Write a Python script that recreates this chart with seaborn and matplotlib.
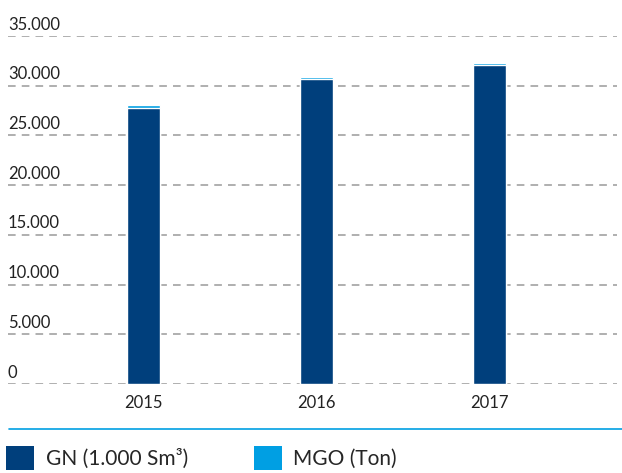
import numpy as np
import pandas as pd
import seaborn as sns
import matplotlib.pyplot as plt
from matplotlib.lines import Line2D
from matplotlib.patches import Patch

# data
years = ["2015", "2016", "2017"]
gn = [27800, 30700, 32100]      # GN (1.000 Sm3)
mgo = [250, 220, 220]           # MGO (Ton)
yticks = [0, 5000, 10000, 15000, 20000, 25000, 30000, 35000]

dark = "#003f7c"
light = "#009fe3"

df = pd.DataFrame({"year": years, "gn": gn, "mgo": mgo})
df["total"] = df["gn"] + df["mgo"]

sns.set_style("white")
plt.rcParams["font.family"] = ["Lato", "DejaVu Sans"]

fig = plt.figure(figsize=(6.22, 4.73), dpi=100)
ax = fig.add_axes([8 / 622, 1 - 384 / 473, (617 - 8) / 622, (384 - 36) / 473])

# stacked bars: total in light blue, GN on top of it in dark blue
sns.barplot(data=df, x="year", y="total", color=light, saturation=1, width=0.19, ax=ax, zorder=3)
sns.barplot(data=df, x="year", y="gn", color=dark, saturation=1, width=0.19, ax=ax, zorder=4)

ax.set_xlim(-0.783, 2.737)
ax.set_ylim(0, 35000)
ax.set_yticks(yticks)
ax.set_yticklabels([])
ax.tick_params(axis="y", length=0)
ax.tick_params(axis="x", length=0, pad=8, labelsize=12, labelcolor="#222222")
ax.set_xlabel("")
ax.set_ylabel("")
for s in ax.spines.values():
    s.set_visible(False)

# dashed gridlines with labels sitting above them
for v in yticks:
    ax.axhline(v, color="#9a9a9a", lw=1.1, ls=(0, (5, 4)), zorder=1)
    lab = "0" if v == 0 else f"{v:,}".replace(",", ".")
    ax.text(0, v + 650, lab, transform=ax.get_yaxis_transform(), ha="left", va="baseline",
            fontsize=12, color="#222222")

# separator line above the legend
fig.add_artist(Line2D([9 / 622, 1], [1 - 429 / 473] * 2, color=light, lw=1.2))

handles = [Patch(facecolor=dark, edgecolor="none"), Patch(facecolor=light, edgecolor="none")]
fig.legend(handles, ["GN (1.000 Sm³)", "MGO (Ton)"], loc="upper left",
           bbox_to_anchor=(0.0, 1 - 440 / 473), ncol=2, frameon=False, fontsize=15,
           handlelength=1.35, handleheight=1.35, handletextpad=0.55, columnspacing=3.15,
           borderaxespad=0, borderpad=0.3)

fig.savefig("out.png", dpi=100)
